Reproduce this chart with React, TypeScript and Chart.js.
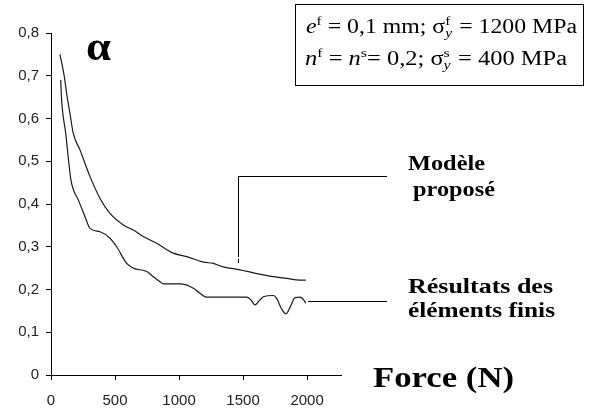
import React, { useEffect, useRef } from "react";
import { Chart, registerables } from "chart.js";

Chart.register(...registerables);

// Modèle proposé
const modelForce = [70, 104, 122, 148, 174, 227, 305, 383, 461, 565, 643, 721, 826, 955, 1060, 1190, 1268, 1346, 1477, 1580, 1737, 1841, 1945, 1990];
const modelAlpha = [0.75, 0.698, 0.659, 0.612, 0.565, 0.526, 0.464, 0.413, 0.378, 0.351, 0.339, 0.324, 0.308, 0.285, 0.277, 0.264, 0.261, 0.253, 0.246, 0.239, 0.23, 0.226, 0.222, 0.222];

// Résultats des éléments finis
const feForce = [76, 83, 115, 156, 214, 260, 305, 383, 461, 513, 591, 643, 748, 799, 852, 877, 1008, 1112, 1164, 1216, 1529, 1560, 1594, 1630, 1659, 1737, 1765, 1800, 1836, 1870, 1906, 1945, 1975, 1990];
const feAlpha = [0.69, 0.643, 0.565, 0.456, 0.409, 0.375, 0.343, 0.335, 0.32, 0.3, 0.261, 0.25, 0.242, 0.23, 0.218, 0.213, 0.213, 0.203, 0.191, 0.182, 0.182, 0.176, 0.164, 0.175, 0.183, 0.186, 0.178, 0.155, 0.143, 0.16, 0.181, 0.182, 0.175, 0.168];

const xTickValues = [0, 500, 1000, 1500, 2000];
const yTickValues = [0, 0.1, 0.2, 0.3, 0.4, 0.5, 0.6, 0.7, 0.8];

const X_MAX = 2265;
const Y_MAX = 0.8;

const LINE = "#1a1a1a";

function fitText(ctx: CanvasRenderingContext2D, text: string, x: number, y: number, w: number, font: string) {
  ctx.font = font;
  const m = ctx.measureText(text).width;
  ctx.save();
  ctx.translate(x, y);
  ctx.scale(w / m, 1);
  ctx.fillText(text, 0, 0);
  ctx.restore();
}

type Seg = { t?: string; font?: string; dy?: number; sup?: string; sub?: string };

const BIG = '20px "Liberation Serif"';
const BIG_I = 'italic 20px "Liberation Serif"';
const SMALL = '13px "Liberation Serif"';
const SMALL_I = 'italic 13px "Liberation Serif"';

function drawRich(ctx: CanvasRenderingContext2D, segs: Seg[], x: number, y: number, w: number) {
  const widths = segs.map((s) => {
    if (s.t !== undefined) {
      ctx.font = s.font || BIG;
      return ctx.measureText(s.t).width;
    }
    ctx.font = SMALL;
    const a = s.sup ? ctx.measureText(s.sup).width : 0;
    ctx.font = SMALL_I;
    const b = s.sub ? ctx.measureText(s.sub).width : 0;
    return Math.max(a, b) + 1;
  });
  const total = widths.reduce((a, b) => a + b, 0);
  ctx.save();
  ctx.translate(x, y);
  ctx.scale(w / total, 1);
  let cx = 0;
  segs.forEach((s, i) => {
    if (s.t !== undefined) {
      ctx.font = s.font || BIG;
      ctx.fillText(s.t, cx, s.dy || 0);
    } else {
      if (s.sup) {
        ctx.font = SMALL;
        ctx.fillText(s.sup, cx, -8);
      }
      if (s.sub) {
        ctx.font = SMALL_I;
        ctx.fillText(s.sub, cx, 4);
      }
    }
    cx += widths[i];
  });
  ctx.restore();
}

const annotations = {
  id: "annotations",
  afterDraw(chart: any) {
    const ctx: CanvasRenderingContext2D = chart.ctx;
    const xs = chart.scales.x;
    const ys = chart.scales.y;
    ctx.save();
    ctx.fillStyle = "#000";
    ctx.strokeStyle = "#000";
    ctx.lineWidth = 1;
    ctx.textAlign = "left";
    ctx.textBaseline = "alphabetic";

    // alpha label
    fitText(ctx, "α", 86, 60, 25, 'bold 40px "Liberation Serif"');

    // parameter box
    ctx.strokeRect(295.5, 4.5, 288, 81);
    drawRich(ctx, [
      { t: "e", font: BIG_I },
      { t: "f", font: SMALL, dy: -8 },
      { t: " = 0,1 mm; σ" },
      { sup: "f", sub: "y" },
      { t: " = 1200 MPa" },
    ], 306, 33, 271);
    drawRich(ctx, [
      { t: "n", font: BIG_I },
      { t: "f", font: SMALL, dy: -8 },
      { t: " = " },
      { t: "n", font: BIG_I },
      { t: "s", font: SMALL, dy: -8 },
      { t: "= 0,2; σ" },
      { sup: "s", sub: "y" },
      { t: " = 400 MPa" },
    ], 305, 65, 262);

    // leader lines
    const xv = Math.round(xs.getPixelForValue(1460)) + 0.5;
    const yh = 176.5;
    ctx.beginPath();
    ctx.moveTo(xv, yh);
    ctx.lineTo(387, yh);
    ctx.moveTo(xv, yh);
    ctx.lineTo(xv, 257);
    ctx.moveTo(xv, 259);
    ctx.lineTo(xv, 263);
    const xe = xs.getPixelForValue(2000) + 1;
    const ye = Math.round(ys.getPixelForValue(0.173)) + 0.5;
    ctx.moveTo(xe, ye);
    ctx.lineTo(387, ye);
    ctx.stroke();

    const bold22 = 'bold 22px "Liberation Serif"';
    fitText(ctx, "Modèle", 408, 170, 77, bold22);
    fitText(ctx, "proposé", 413, 196, 82, bold22);
    fitText(ctx, "Résultats des", 408, 293, 145, bold22);
    fitText(ctx, "éléments finis", 408, 317, 147, bold22);
    fitText(ctx, "Force (N)", 373, 387, 141, 'bold 30px "Liberation Serif"');
    ctx.restore();
  },
};

export default function App() {
  const ref = useRef<HTMLCanvasElement | null>(null);
  useEffect(() => {
    if (!ref.current) return;
    const chart = new Chart(ref.current, {
      type: "line",
      data: {
        datasets: [
          {
            label: "Modèle proposé",
            data: modelForce.map((f, i) => ({ x: f, y: modelAlpha[i] })),
            borderColor: LINE,
            borderWidth: 1.2,
            pointRadius: 0,
            fill: false,
            cubicInterpolationMode: "monotone",
          },
          {
            label: "Résultats des éléments finis",
            data: feForce.map((f, i) => ({ x: f, y: feAlpha[i] })),
            borderColor: LINE,
            borderWidth: 1.2,
            pointRadius: 0,
            fill: false,
            cubicInterpolationMode: "monotone",
          },
        ],
      },
      options: {
        responsive: false,
        animation: false,
        layout: { autoPadding: false, padding: { left: 0, top: 33, right: 248, bottom: 0 } },
        plugins: { legend: { display: false }, tooltip: { enabled: false }, title: { display: false } },
        scales: {
          x: {
            type: "linear",
            min: 0,
            max: X_MAX,
            afterFit: (s: any) => { s.height = 37; },
            afterBuildTicks: (s: any) => { s.ticks = xTickValues.map((v) => ({ value: v })); },
            border: { display: true, color: "#000", width: 1 },
            grid: { display: true, drawOnChartArea: false, drawTicks: true, tickLength: 5, color: "#000" },
            ticks: {
              includeBounds: false,
              maxRotation: 0,
              autoSkip: false,
              padding: 12,
              color: "#222",
              font: { family: "Liberation Sans", size: 15 },
              callback: (v: any) => String(v),
            },
          },
          y: {
            type: "linear",
            min: 0,
            max: Y_MAX,
            afterFit: (s: any) => { s.width = 51; },
            afterBuildTicks: (s: any) => { s.ticks = yTickValues.map((v) => ({ value: v })); },
            border: { display: true, color: "#000", width: 1 },
            grid: { display: true, drawOnChartArea: false, drawTicks: true, tickLength: 5, color: "#000" },
            ticks: {
              autoSkip: false,
              padding: 7,
              color: "#222",
              font: { family: "Liberation Sans", size: 15 },
              callback: (v: any) => (Number(v) === 0 ? "0" : Number(v).toFixed(1).replace(".", ",")),
            },
          },
        },
      },
      plugins: [annotations],
    } as any);
    return () => chart.destroy();
  }, []);
  return (
    <div style={{ position: "absolute", left: 0, top: 0, width: 589, height: 412, background: "#fff" }}>
      <canvas ref={ref} width={589} height={412} />
    </div>
  );
}
